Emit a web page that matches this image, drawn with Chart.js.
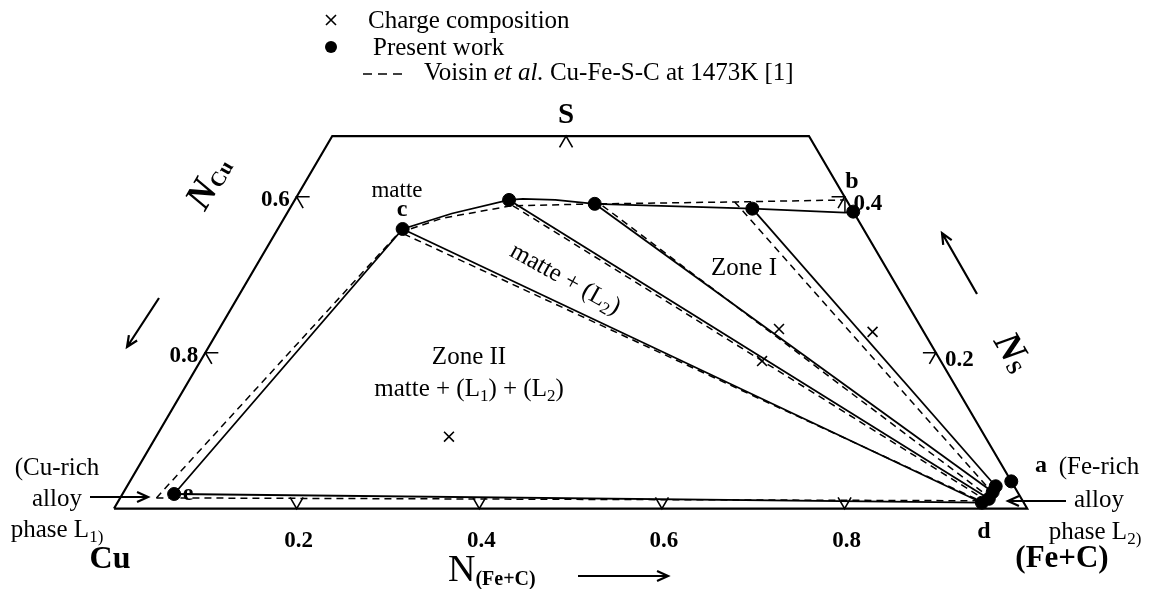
<!DOCTYPE html>
<html>
<head>
<meta charset="utf-8">
<script src="https://cdn.jsdelivr.net/npm/chart.js@4.4.1/dist/chart.umd.min.js"></script>
<style>
html, body { margin: 0; padding: 0; background: #ffffff; }
#box { position: relative; width: 1156px; height: 589px; }
</style>
</head>
<body>
<div id="box"><canvas id="diagram"></canvas></div>
<script>
// Compositions as mole fractions: N(Fe+C) and N_S  (N_Cu = 1 - N(Fe+C) - N_S)

// Present work: measured phase compositions (filled circles)
const workNames = ['e', 'c', 'm2', 'm3', 'm4', 'b', 'a', 'd', 'l2', 'l3', 'l4'];
const workFe = [0.0565, 0.1367, 0.2346, 0.3309, 0.5066, 0.6190, 0.9651, 0.9466, 0.9517, 0.9516, 0.9512];
const workS  = [0.0187, 0.3587, 0.3960, 0.3910, 0.3848, 0.3810, 0.0349, 0.0075, 0.0125, 0.0212, 0.0286];

// Present work: matte saturation boundary e - c - ... - b
const matteFe = [0.0565, 0.1367, 0.1807, 0.2346, 0.2491, 0.2853, 0.3309, 0.5066, 0.6105, 0.6190];
const matteS  = [0.0187, 0.3587, 0.3786, 0.3960, 0.3973, 0.3960, 0.3910, 0.3848, 0.3798, 0.3810];

// Present work: tie lines (start -> end); the first one is e - d
const tieFeStart = [0.0565, 0.1367, 0.2346, 0.3309, 0.5066];
const tieSStart  = [0.0187, 0.3587, 0.3960, 0.3910, 0.3848];
const tieFeEnd   = [0.9466, 0.9466, 0.9517, 0.9516, 0.9512];
const tieSEnd    = [0.0075, 0.0075, 0.0125, 0.0212, 0.0286];

// Voisin et al., Cu-Fe-S-C at 1473 K: boundary and tie lines
const voisinFe = [0.0396, 0.1349, 0.1730, 0.2405, 0.3363, 0.4861, 0.6035];
const voisinS  = [0.0137, 0.3537, 0.3724, 0.3885, 0.3910, 0.3935, 0.3960];
const vTieFeStart = [0.0396, 0.1410, 0.2426, 0.3408, 0.4829];
const vTieSStart  = [0.0137, 0.3524, 0.3885, 0.3885, 0.3935];
const vTieFeEnd   = [0.9421, 0.9405, 0.9463, 0.9487, 0.9523];
const vTieSEnd    = [0.0100, 0.0112, 0.0125, 0.0162, 0.0199];

// Charge compositions (crosses)
const chargeFe = [0.3207, 0.6150, 0.6130, 0.7173];
const chargeS  = [0.0922, 0.1893, 0.2304, 0.2267];

// Axis ticks
const feTicks = [0.2, 0.4, 0.6, 0.8];   // N(Fe+C) on the Cu-(Fe+C) side
const cuTicks = [0.6, 0.8];             // N_Cu on the Cu-S side
const sTicks  = [0.2, 0.4];             // N_S on the (Fe+C)-S side
const sCut = 0.478;                     // the diagram is cut off above this N_S

const H = Math.sqrt(3) / 2;
const tern = (fe, s) => ({ x: fe + s / 2, y: s * H });
const path = (fe, s) => fe.map((v, i) => tern(v, s[i]));
const SERIF = "'Liberation Serif', 'Times New Roman', serif";

const lineSet = (data, opts) => Object.assign({
  data, showLine: true, pointRadius: 0, pointHoverRadius: 0,
  borderColor: '#000', borderWidth: 1.8, fill: false, tension: 0, order: 5
}, opts || {});

const datasets = [];
datasets.push({ label: 'Present work', data: path(workFe, workS), showLine: false,
  pointRadius: 6.5, pointBackgroundColor: '#000', pointBorderColor: '#000', order: 0 });
datasets.push({ label: 'Charge composition', data: path(chargeFe, chargeS), showLine: false,
  pointStyle: 'crossRot', pointRadius: 7, pointBorderWidth: 1.6, borderColor: '#000', order: 1 });
// triangle outline, truncated at the top
datasets.push(lineSet([tern(0, 0), tern(1, 0), tern(1 - sCut, sCut), tern(0, sCut), tern(0, 0)],
  { borderWidth: 2.2, borderJoinStyle: 'miter' }));
datasets.push(lineSet(path(matteFe, matteS)));
// short link at b between both boundaries
datasets.push(lineSet([tern(0.6105, 0.3798), tern(0.6030, 0.3948)], { borderWidth: 1.5 }));
tieFeStart.forEach((v, i) => datasets.push(lineSet([tern(v, tieSStart[i]), tern(tieFeEnd[i], tieSEnd[i])])));
datasets.push(lineSet(path(voisinFe, voisinS), { borderWidth: 1.5, borderDash: [7, 5] }));
vTieFeStart.forEach((v, i) => datasets.push(lineSet([tern(v, vTieSStart[i]), tern(vTieFeEnd[i], vTieSEnd[i])],
  { borderWidth: 1.5, borderDash: [7, 5] })));

function textRuns(ctx, x, y, parts, align, angle) {
  ctx.save();
  ctx.translate(x, y);
  if (angle) ctx.rotate(angle * Math.PI / 180);
  let w = 0;
  parts.forEach(p => { ctx.font = p.f; w += ctx.measureText(p.t).width; });
  let cx = align === 'center' ? -w / 2 : align === 'right' ? -w : 0;
  ctx.textBaseline = 'alphabetic';
  ctx.fillStyle = '#000';
  parts.forEach(p => { ctx.font = p.f; ctx.fillText(p.t, cx, p.dy || 0); cx += ctx.measureText(p.t).width; });
  ctx.restore();
}

function arrow(ctx, x0, y0, x1, y1) {
  const a = Math.atan2(y1 - y0, x1 - x0), L = 12, sp = 0.42;
  ctx.beginPath();
  ctx.moveTo(x0, y0); ctx.lineTo(x1, y1);
  ctx.moveTo(x1 - L * Math.cos(a - sp), y1 - L * Math.sin(a - sp));
  ctx.lineTo(x1, y1);
  ctx.lineTo(x1 - L * Math.cos(a + sp), y1 - L * Math.sin(a + sp));
  ctx.stroke();
}

const decor = {
  id: 'decor',
  beforeDatasetsDraw(chart) {
    const ctx = chart.ctx, sx = chart.scales.x, sy = chart.scales.y;
    const px = (fe, s) => { const p = tern(fe, s); return { x: sx.getPixelForValue(p.x), y: sy.getPixelForValue(p.y) }; };
    const UL = [-0.5, -H], UR = [0.5, -H], R = [1, 0], Lf = [-1, 0], DR = [0.5, H], DL = [-0.5, H];
    const chev = (P, d1, d2) => {
      const L = 13;
      ctx.beginPath();
      ctx.moveTo(P.x + d1[0] * L, P.y + d1[1] * L); ctx.lineTo(P.x, P.y); ctx.lineTo(P.x + d2[0] * L, P.y + d2[1] * L);
      ctx.stroke();
    };
    ctx.save();
    ctx.strokeStyle = '#000'; ctx.lineWidth = 1.6;
    feTicks.forEach(v => chev(px(v, 0), UL, UR));
    cuTicks.forEach(v => chev(px(0, 1 - v), R, DR));
    sTicks.forEach(v => chev(px(1 - v, v), Lf, DL));
    chev(px(0.5 - sCut / 2 - 0.005, sCut), DL, DR);
    ctx.restore();
  },
  afterDatasetsDraw(chart) {
    const ctx = chart.ctx, sx = chart.scales.x, sy = chart.scales.y;
    const px = (fe, s) => { const p = tern(fe, s); return { x: sx.getPixelForValue(p.x), y: sy.getPixelForValue(p.y) }; };
    ctx.save();
    ctx.strokeStyle = '#000'; ctx.fillStyle = '#000'; ctx.lineWidth = 1.6;

    // legend
    const lx = 331;
    ctx.beginPath();
    ctx.moveTo(lx - 5, 15); ctx.lineTo(lx + 5, 25); ctx.moveTo(lx + 5, 15); ctx.lineTo(lx - 5, 25);
    ctx.stroke();
    ctx.beginPath(); ctx.arc(lx, 47, 6, 0, 2 * Math.PI); ctx.fill();
    ctx.save(); ctx.setLineDash([9, 6]); ctx.beginPath(); ctx.moveTo(363, 74); ctx.lineTo(408, 74); ctx.stroke(); ctx.restore();
    const fl = '25px ' + SERIF;
    textRuns(ctx, 368, 28, [{ t: 'Charge composition', f: fl }]);
    textRuns(ctx, 373, 55, [{ t: 'Present work', f: fl }]);
    textRuns(ctx, 424, 80, [{ t: 'Voisin ', f: fl }, { t: 'et al.', f: 'italic ' + fl },
      { t: ' Cu-Fe-S-C at 1473K [1]', f: fl }]);

    // corner and axis titles
    textRuns(ctx, 566, 123, [{ t: 'S', f: 'bold 29px ' + SERIF }], 'center');
    textRuns(ctx, 110, 568, [{ t: 'Cu', f: 'bold 32px ' + SERIF }], 'center');
    textRuns(ctx, 1062, 567, [{ t: '(Fe+C)', f: 'bold 31px ' + SERIF }], 'center');
    textRuns(ctx, 448, 581, [{ t: 'N', f: '38px ' + SERIF }, { t: '(Fe+C)', f: 'bold 20px ' + SERIF, dy: 4 }]);
    textRuns(ctx, 205, 212, [{ t: 'N', f: 'bold italic 38px ' + SERIF }, { t: 'Cu', f: 'bold 21px ' + SERIF, dy: 2 }], 'left', -60);
    textRuns(ctx, 993, 341, [{ t: 'N', f: 'bold italic 38px ' + SERIF }, { t: 'S', f: 'bold 21px ' + SERIF, dy: 2 }], 'left', 60);

    // tick labels
    const tf = 'bold 23px ' + SERIF;
    feTicks.forEach(v => { const p = px(v, 0); textRuns(ctx, p.x + 2, 547, [{ t: v.toFixed(1), f: tf }], 'center'); });
    cuTicks.forEach(v => { const p = px(0, 1 - v); textRuns(ctx, p.x - 7, p.y + 9, [{ t: v.toFixed(1), f: tf }], 'right'); });
    sTicks.forEach(v => { const p = px(1 - v, v); textRuns(ctx, p.x + 9, p.y + 13, [{ t: v.toFixed(1), f: tf }]); });

    // point labels
    const bf = 'bold 24px ' + SERIF;
    textRuns(ctx, 397, 197, [{ t: 'matte', f: '23px ' + SERIF }], 'center');
    textRuns(ctx, 402, 216, [{ t: 'c', f: bf }], 'center');
    textRuns(ctx, 852, 188, [{ t: 'b', f: bf }], 'center');
    textRuns(ctx, 1041, 472, [{ t: 'a', f: bf }], 'center');
    textRuns(ctx, 984, 538, [{ t: 'd', f: bf }], 'center');
    textRuns(ctx, 188, 500, [{ t: 'e', f: bf }], 'center');

    // region labels
    const rf = '25px ' + SERIF, sf = '17px ' + SERIF;
    textRuns(ctx, 744, 275, [{ t: 'Zone I', f: rf }], 'center');
    textRuns(ctx, 469, 364, [{ t: 'Zone II', f: rf }], 'center');
    textRuns(ctx, 469, 396, [{ t: 'matte + (L', f: rf }, { t: '1', f: sf, dy: 5 }, { t: ') + (L', f: rf },
      { t: '2', f: sf, dy: 5 }, { t: ')', f: rf }], 'center');
    textRuns(ctx, 562, 285, [{ t: 'matte + (L', f: rf }, { t: '2', f: sf, dy: 5 }, { t: ')', f: rf }], 'center', 29);

    // alloy phase notes
    textRuns(ctx, 57, 475, [{ t: '(Cu-rich', f: rf }], 'center');
    textRuns(ctx, 57, 506, [{ t: 'alloy', f: rf }], 'center');
    textRuns(ctx, 57, 537, [{ t: 'phase L', f: rf }, { t: '1)', f: sf, dy: 5 }], 'center');
    textRuns(ctx, 1099, 474, [{ t: '(Fe-rich', f: rf }], 'center');
    textRuns(ctx, 1099, 507, [{ t: 'alloy', f: rf }], 'center');
    textRuns(ctx, 1095, 539, [{ t: 'phase L', f: rf }, { t: '2)', f: sf, dy: 5 }], 'center');

    // arrows
    ctx.lineWidth = 2.2;
    arrow(ctx, 90, 497, 148, 497);
    arrow(ctx, 1066, 501, 1008, 501);
    arrow(ctx, 578, 576, 668, 576);
    arrow(ctx, 159, 298, 127, 347);
    arrow(ctx, 977, 294, 942, 233);
    ctx.restore();
  }
};

new Chart(document.getElementById('diagram'), {
  type: 'scatter',
  data: { datasets },
  options: {
    responsive: true,
    maintainAspectRatio: false,
    animation: false,
    layout: { padding: 0 },
    plugins: { legend: { display: false }, tooltip: { enabled: false }, title: { display: false } },
    scales: {
      x: { type: 'linear', display: false, min: -0.11543, max: 1.13161 },
      y: { type: 'linear', display: false, min: -0.07983, max: 0.55556 }
    },
    elements: { line: { borderCapStyle: 'butt' } }
  },
  plugins: [decor]
});
</script>
</body>
</html>
